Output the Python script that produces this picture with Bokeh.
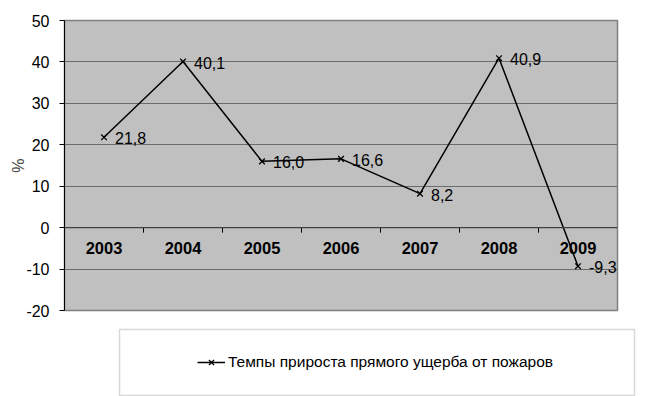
import math
from bokeh.plotting import figure
from bokeh.layouts import column
from bokeh.models import (Range1d, FixedTicker, Legend, LegendItem, BoxAnnotation,
                          ColumnDataSource, Span)
from bokeh.core.properties import value
from bokeh.embed import file_html
from bokeh.resources import INLINE

years = ["2003", "2004", "2005", "2006", "2007", "2008", "2009"]
growth = [21.8, 40.1, 16.0, 16.6, 8.2, 40.9, -9.3]
value_labels = ["21,8", "40,1", "16,0", "16,6", "8,2", "40,9", "-9,3"]
y_ticks = [-20, -10, 0, 10, 20, 30, 40, 50]
y_tick_labels = ["-20", "-10", "0", "10", "20", "30", "40", "50"]
series_name = "Темпы прироста прямого ущерба от пожаров"

FONT = "Liberation Sans"
W = 666
H1, H2 = 322, 74
FRAME_L, FRAME_R, FRAME_T, FRAME_B = 64, 617, 20, 310

# category slot centres and boundaries on a numeric axis
n = len(years)
centres = [i + 0.5 for i in range(n)]
boundaries = list(range(1, n))

p = figure(width=W, height=H1, output_backend="svg", toolbar_location=None,
           x_range=Range1d(0, n), y_range=Range1d(y_ticks[0], y_ticks[-1]), x_axis_location=None,
           min_border_left=FRAME_L, min_border_right=W - FRAME_R, min_border_top=FRAME_T,
           min_border_bottom=H1 - FRAME_B)
p.frame_align = False
p.background_fill_color = "#c0c0c0"
p.border_fill_color = "white"
p.outline_line_color = "#808080"
p.outline_line_width = 1.5
p.xgrid.grid_line_color = None
p.ygrid.grid_line_color = "#6b6b6b"
p.ygrid.grid_line_width = 1
p.ygrid.ticker = FixedTicker(ticks=y_ticks)

# y axis
p.yaxis.ticker = FixedTicker(ticks=y_ticks)
p.yaxis.major_label_overrides = {t: s for t, s in zip(y_ticks, y_tick_labels)}
p.yaxis.axis_line_color = "black"
p.yaxis.major_tick_line_color = "black"
p.yaxis.major_tick_out = 5
p.yaxis.major_tick_in = 0
p.yaxis.minor_tick_line_color = None
p.yaxis.major_label_text_font = FONT
p.yaxis.major_label_text_font_size = "16px"
p.yaxis.major_label_text_color = "black"
p.yaxis.major_label_standoff = 10
p.yaxis.axis_label = "%"
p.yaxis.axis_label_text_font = FONT
p.yaxis.axis_label_text_font_size = "16px"
p.yaxis.axis_label_text_font_style = "normal"
p.yaxis.axis_label_standoff = -4

# category axis crossing at zero: line, boundary ticks, bold labels
p.add_layout(Span(location=0, dimension="width", line_color="#404040", line_width=1.2))
p.ray(x=boundaries, y=[0] * len(boundaries), length=5, length_units="screen",
      angle=-math.pi / 2, line_color="black", line_width=1)
p.text(x=centres, y=[0] * n, text=years, y_offset=20, text_align="center",
       text_baseline="middle", text_font=value(FONT), text_font_size="16.5px",
       text_font_style="bold", text_color="black")

src = ColumnDataSource(dict(x=centres, y=growth, lab=value_labels))
line_style = dict(line_color="black", line_width=1.5)
marker_style = dict(marker="x", size=8, line_color="black", line_width=1.3)
p.line("x", "y", source=src, **line_style)
p.scatter("x", "y", source=src, **marker_style)
p.text("x", "y", text="lab", source=src, x_offset=11, y_offset=1,
       text_font=value(FONT), text_font_size="16px", text_baseline="middle", text_color="black")

# legend panel below the chart (its view range shows none of the series itself)
p2 = figure(width=W, height=H2, output_backend="svg", toolbar_location=None,
            x_range=Range1d(-2, -1), y_range=Range1d(-2, -1),
            x_axis_location=None, y_axis_location=None,
            min_border_left=0, min_border_right=0, min_border_top=0, min_border_bottom=0)
p2.frame_align = False
p2.outline_line_color = None
p2.background_fill_color = "white"
p2.border_fill_color = "white"
p2.xgrid.grid_line_color = None
p2.ygrid.grid_line_color = None

box = BoxAnnotation(left=119, right=634, top=7, bottom=73,
                    left_units="canvas", right_units="canvas", top_units="canvas", bottom_units="canvas",
                    fill_color="white", fill_alpha=1, line_color="#808080", line_width=1.5)
p2.add_layout(box)

lr = p2.line("x", "y", source=src, **line_style)
lm = p2.scatter("x", "y", source=src, **marker_style)
legend = Legend(items=[LegendItem(label=series_name, renderers=[lr, lm])],
                location=(197, 25), border_line_color=None, background_fill_alpha=0,
                padding=0, margin=0, glyph_width=28, glyph_height=18, label_height=18,
                label_standoff=3, label_text_font=FONT, label_text_font_size="15.5px",
                label_text_color="black")
p2.add_layout(legend, "center")

layout = column(p, p2, spacing=0)
open("out.html", "w").write(file_html(layout, INLINE))
